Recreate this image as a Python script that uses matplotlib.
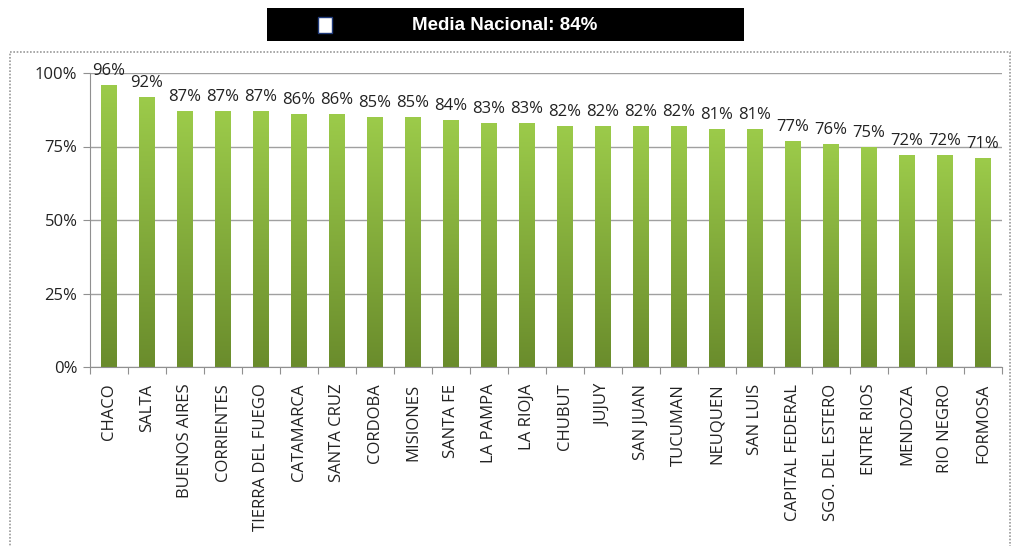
import matplotlib.pyplot as plt
import matplotlib.patches as patches
import numpy as np
from matplotlib.colors import LinearSegmentedColormap

provincias = ["CHACO", "SALTA", "BUENOS AIRES", "CORRIENTES", "TIERRA DEL FUEGO",
              "CATAMARCA", "SANTA CRUZ", "CORDOBA", "MISIONES", "SANTA FE",
              "LA PAMPA", "LA RIOJA", "CHUBUT", "JUJUY", "SAN JUAN", "TUCUMAN",
              "NEUQUEN", "SAN LUIS", "CAPITAL FEDERAL", "SGO. DEL ESTERO",
              "ENTRE RIOS", "MENDOZA", "RIO NEGRO", "FORMOSA"]
valores = [96, 92, 87, 87, 87, 86, 86, 85, 85, 84, 83, 83, 82, 82, 82, 82,
           81, 81, 77, 76, 75, 72, 72, 71]
yticks = [0, 25, 50, 75, 100]
titulo = "Media Nacional: 84%"

W, H = 1012, 546
fig = plt.figure(figsize=(W / 100, H / 100), dpi=100)
plt.rcParams['font.family'] = ['Open Sans', 'DejaVu Sans']

# marco punteado exterior
marco = patches.Rectangle((10 / W, -0.02), 1000 / W, 1 - 52 / H + 0.02,
                          transform=fig.transFigure, fill=False,
                          edgecolor='#9a9a9a', linestyle=(0, (1, 1)), linewidth=1.2)
fig.add_artist(marco)

# barra de titulo negra
fig.add_artist(patches.Rectangle((267 / W, 1 - 41 / H), 477 / W, 33 / H,
                                 transform=fig.transFigure, facecolor='black',
                                 edgecolor='none'))
fig.add_artist(patches.Rectangle((318 / W, 1 - 33 / H), 14 / W, 16 / H,
                                 transform=fig.transFigure, facecolor='white',
                                 edgecolor='#1f3a7a', linewidth=1))
fig.text(505 / W, 1 - 25 / H, titulo, color='white', fontsize=13.5,
         fontweight='bold', ha='center', va='center',
         family=['Liberation Sans Narrow', 'Liberation Sans', 'DejaVu Sans'])

ax = fig.add_axes([90 / W, 1 - 367 / H, 912 / W, 294 / H])
x = np.arange(len(provincias))

cmap = LinearSegmentedColormap.from_list('verde', ['#6a8c2c', '#9ccb4a'])
grad = np.linspace(0, 1, 256).reshape(-1, 1)
ancho = 0.42
for xi, v in zip(x, valores):
    bar = ax.bar(xi, v, width=ancho, color='none', edgecolor='none', zorder=2)[0]
    im = ax.imshow(grad, cmap=cmap, origin='lower', aspect='auto',
                   extent=[xi - ancho / 2, xi + ancho / 2, 0, v], zorder=2)
    im.set_clip_path(bar)
    ax.text(xi, v + 2, f"{v}%", ha='center', va='bottom', fontsize=12,
            color='#222222', clip_on=False)
ax.set_xlim(-0.5, len(provincias) - 0.5)
ax.set_ylim(0, 100)

ax.set_yticks(yticks)
ax.set_yticklabels([f"{t}%" for t in yticks], fontsize=12, color='#222222')
ax.yaxis.grid(True, color='#a0a0a0', linewidth=1)
ax.set_axisbelow(True)

ax.set_xticks(np.arange(len(provincias) + 1) - 0.5)
ax.set_xticklabels([])
ax.set_xticks(x, minor=True)
ax.set_xticklabels(provincias, minor=True, rotation=90, fontsize=12,
                   color='#222222')
ax.tick_params(axis='x', which='minor', length=0, pad=12)
ax.tick_params(axis='x', which='major', length=5, color='#909090')
ax.tick_params(axis='y', length=5, color='#909090', pad=4)

for s in ['top', 'right']:
    ax.spines[s].set_visible(False)
ax.spines['left'].set_color('#909090')
ax.spines['bottom'].set_color('#909090')

fig.savefig("out.png", dpi=100)
